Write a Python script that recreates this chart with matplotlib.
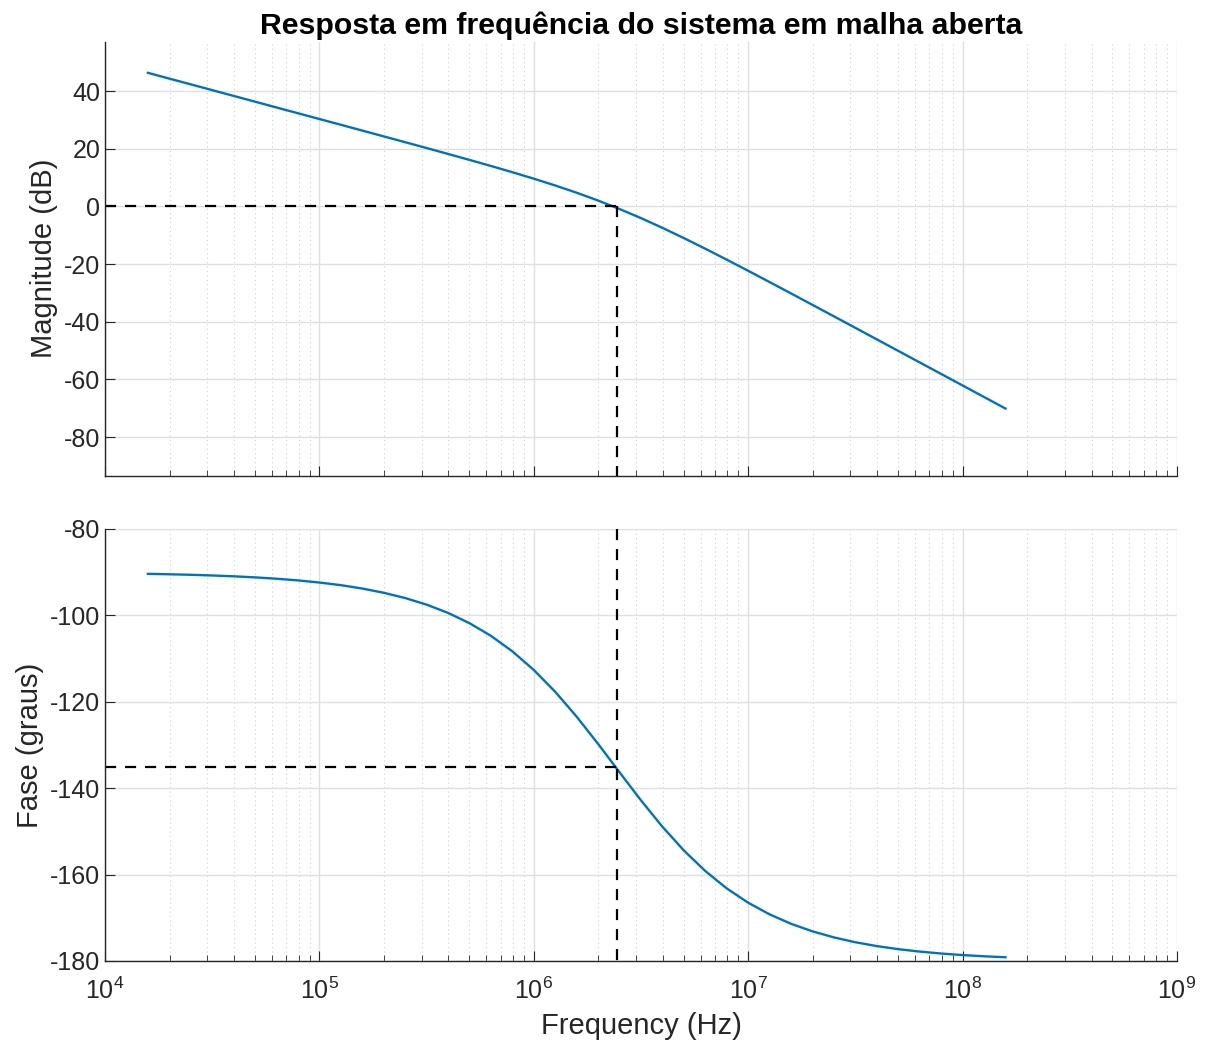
import matplotlib
matplotlib.use('Agg')
import matplotlib.pyplot as plt
import numpy as np
from matplotlib.ticker import LogLocator, NullFormatter

plt.rcParams['font.family'] = ['Liberation Sans', 'DejaVu Sans']
plt.rcParams['mathtext.fontset'] = 'custom'
plt.rcParams['mathtext.rm'] = 'Liberation Sans'
plt.rcParams['mathtext.it'] = 'Liberation Sans:italic'
plt.rcParams['mathtext.bf'] = 'Liberation Sans:bold'

# sampled open-loop response, 0.1 decade steps
log_freq = [4.2, 4.3, 4.4, 4.5, 4.6, 4.7, 4.8, 4.9, 5.0, 5.1,
            5.2, 5.3, 5.4, 5.5, 5.6, 5.7, 5.8, 5.9, 6.0, 6.1,
            6.2, 6.3, 6.4, 6.5, 6.6, 6.7, 6.8, 6.9, 7.0, 7.1,
            7.2, 7.3, 7.4, 7.5, 7.6, 7.7, 7.8, 7.9, 8.0, 8.1, 8.2]
mag_db = [46.31, 44.31, 42.31, 40.31, 38.31, 36.31, 34.30, 32.30, 30.30, 28.30,
          26.29, 24.28, 22.26, 20.24, 18.19, 16.12, 14.02, 11.86, 9.61, 7.25,
          4.74, 2.03, -0.91, -4.06, -7.44, -10.99, -14.68, -18.47, -22.33, -26.25,
          -30.19, -34.15, -38.13, -42.12, -46.11, -50.10, -54.10, -58.09, -62.09, -66.09, -70.09]
phase_deg = [-90.38, -90.48, -90.60, -90.76, -90.95, -91.20, -91.51, -91.90, -92.39, -93.00,
             -93.78, -94.76, -95.98, -97.51, -99.42, -101.80, -104.73, -108.32, -112.63, -117.69,
             -123.45, -129.75, -136.32, -142.82, -148.93, -154.42, -159.18, -163.20, -166.51, -169.21,
             -171.39, -173.14, -174.54, -175.66, -176.55, -177.26, -177.82, -178.27, -178.63, -178.91, -179.13]

f_cross = 2.44e6      # 0 dB crossover
phase_cross = -135.0  # phase at crossover

freq = [10 ** l for l in log_freq]

fig = plt.figure(figsize=(12.08, 10.42), dpi=100)
W, H = 1208.0, 1042.0
ax1 = fig.add_axes([105 / W, 1 - 475.5 / H, 1072 / W, 433.5 / H])
ax2 = fig.add_axes([105 / W, 1 - 961 / H, 1072 / W, 432 / H])

blue = '#0072BD'
ink = '#262626'
fs = 18

for ax in (ax1, ax2):
    ax.set_xscale('log')
    ax.set_xlim(1e4, 1e9)
    for s in ('top', 'right'):
        ax.spines[s].set_visible(False)
    for s in ('left', 'bottom'):
        ax.spines[s].set_color(ink)
        ax.spines[s].set_linewidth(1.0)
    ax.xaxis.set_major_locator(LogLocator(base=10, numticks=10))
    ax.xaxis.set_minor_locator(LogLocator(base=10, subs=np.arange(2, 10), numticks=100))
    ax.xaxis.set_minor_formatter(NullFormatter())
    ax.tick_params(which='both', direction='in', colors=ink, labelsize=fs)
    ax.tick_params(which='major', length=7)
    ax.tick_params(which='minor', length=4)
    ax.tick_params(axis='x', which='major', pad=12)
    ax.grid(True, which='major', color='#e0e0e0', linewidth=1.0)
    ax.grid(True, which='minor', axis='x', color='#cfcfcf', linestyle=(0, (1, 3)), linewidth=0.8)
    ax.set_axisbelow(True)

# magnitude
ax1.plot(freq, mag_db, color=blue, linewidth=1.7)
ax1.set_ylim(-93.3, 57)
ax1.set_yticks([-80, -60, -40, -20, 0, 20, 40])
ax1.set_ylabel('Magnitude (dB)', fontsize=21, color=ink)
ax1.tick_params(axis='x', labelbottom=False)
ax1.plot([1e4, f_cross], [0, 0], 'k--', linewidth=1.6, dashes=(5, 4))
ax1.plot([f_cross, f_cross], [0, -93.3], 'k--', linewidth=1.6, dashes=(5, 4))
ax1.set_title('Resposta em frequência do sistema em malha aberta',
              fontsize=21.8, fontweight='bold', pad=6)

# phase
ax2.plot(freq, phase_deg, color=blue, linewidth=1.7)
ax2.set_ylim(-180, -80)
ax2.set_yticks([-180, -160, -140, -120, -100, -80])
ax2.set_ylabel('Fase (graus)', fontsize=21, color=ink)
ax2.set_xlabel('Frequency (Hz)', fontsize=21, color=ink, labelpad=6)
ax2.plot([1e4, f_cross], [phase_cross, phase_cross], 'k--', linewidth=1.6, dashes=(5, 4))
ax2.plot([f_cross, f_cross], [-80, -180], 'k--', linewidth=1.6, dashes=(5, 4))

for ax in (ax1, ax2):
    ax.set_yticklabels([str(int(t)) for t in ax.get_yticks()])

fig.savefig('out.png', dpi=100)
